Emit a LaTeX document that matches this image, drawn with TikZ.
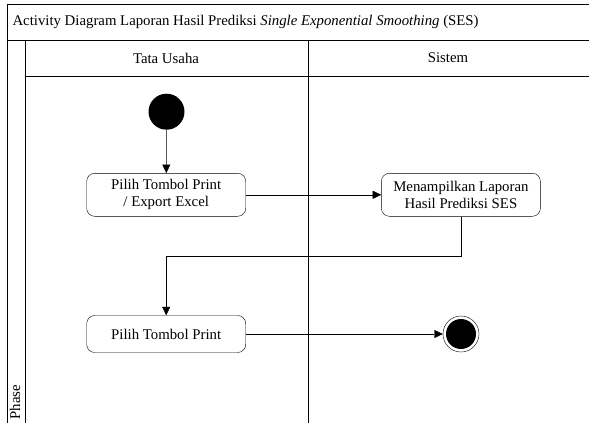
\documentclass[tikz,border=0pt]{standalone}
\usepackage{fontspec}
\setmainfont{Liberation Serif}
\usetikzlibrary{arrows.meta}

\begin{document}
\begin{tikzpicture}[x=1pt, y=-1pt, font=\fontsize{14.8}{17}\selectfont,
    act/.style={draw, rounded corners=8pt, minimum width=159pt, align=center},
    flow/.style={-{Triangle[length=8.5pt,width=8pt]}}]
    \useasboundingbox (0,0) rectangle (589,423);
    % frame, lanes
    \draw[line width=0.9pt] (589,4) -- (7,4) -- (7,423);
    \draw[line width=0.9pt] (7,40.7) -- (589,40.7);
    \draw[line width=0.9pt] (25,40.7) -- (25,423);
    \draw[line width=0.9pt] (25,76) -- (589,76);
    \draw[line width=0.9pt] (308,40.7) -- (308,423);
    \node [anchor=west] (title) at (9,22) {Activity Diagram Laporan Hasil Prediksi \textit{Single Exponential Smoothing} (SES)};
    \node (tu) at (166,58) {Tata Usaha};
    \node (sis) at (448,58) {Sistem};
    \node [rotate=90] (phase) at (15,402) {Phase};
    % activities
    \node [fill=black, circle, minimum size=36pt, inner sep=0pt] (start) at (166.5,111.7) {};
    \node [act, minimum height=43pt] (print1) at (166.2,194.8) {Pilih Tombol Print\\/ Export Excel};
    \node [act, minimum height=43pt] (tampil) at (460.9,194.8) {Menampilkan Laporan\\Hasil Prediksi SES};
    \node [act, minimum height=37pt] (print2) at (166.2,334) {Pilih Tombol Print};
    \node [draw, circle, minimum size=36pt, inner sep=0pt] (end) at (461,334) {};
    \node [fill=black, circle, minimum size=30pt, inner sep=0pt] at (end) {};
    \draw[flow] (start) -- (print1);
    \draw[flow] (print1) -- (tampil);
    \draw[flow] (tampil.south) |- (166.2,256) -- (print2.north);
    \draw[flow] (print2) -- (end);
\end{tikzpicture}
\end{document}
